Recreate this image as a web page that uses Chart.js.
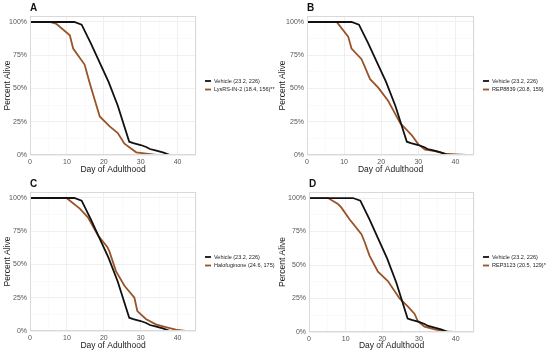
<!DOCTYPE html>
<html>
<head>
<meta charset="utf-8">
<script src="https://cdn.jsdelivr.net/npm/chart.js@4.4.0/dist/chart.umd.min.js"></script>
<style>
  body { margin: 0; background: #fff; }
  #wrap { position: relative; width: 550px; height: 353px; }
  .panel { position: absolute; width: 275px; height: 176px; }
</style>
</head>
<body>
<div id="wrap">
  <div class="panel" style="left:0;top:0"><canvas id="cA"></canvas></div>
  <div class="panel" style="left:275px;top:0"><canvas id="cB"></canvas></div>
  <div class="panel" style="left:0;top:176px"><canvas id="cC"></canvas></div>
  <div class="panel" style="left:275px;top:176px"><canvas id="cD"></canvas></div>
</div>
<script>
// shared control curve
const vehicleLabel = 'Vehicle (23.2, 226)';
const vehicleDays = [0, 12, 14, 16.5, 18.8, 21.3, 23.8, 26.9, 28, 30, 31.5, 32.5, 34, 36, 38];
const vehiclePct  = [100, 100, 98, 84, 70, 55, 37, 10, 9, 7.5, 6, 4.5, 3.5, 2, 0];

// treatments
const lysLabel = 'LysRS-IN-2 (18.4, 156)**';
const lysDays = [0, 5.4, 7.2, 10.8, 11.7, 14.8, 16.2, 18.9, 21.6, 23.8, 25.6, 28.8, 31.5, 34.2];
const lysPct  = [100, 100, 98.5, 90, 80, 68, 54, 29, 21.5, 16.5, 8.5, 2, 1, 0];

const rep8839Label = 'REP8839 (20.8, 159)';
const rep8839Days = [0, 8, 11.1, 12, 14.7, 17, 19.2, 21.9, 25.1, 28.2, 30, 31.8, 34.5, 37.2, 40, 43];
const rep8839Pct  = [100, 100, 89, 80, 72, 57, 50.6, 40.6, 24, 15, 8, 4, 3, 1, 0.5, 0];

const haloLabel = 'Halofuginone (24.6, 175)';
const haloDays = [0, 9.9, 13.5, 15.7, 18.4, 21, 21.5, 23.3, 25.6, 28.3, 29.1, 31.4, 34.1, 36.8, 39.5, 42.2];
const haloPct  = [100, 100, 92, 85.5, 72, 63, 60, 45, 34, 25, 15, 9, 5, 3, 1, 0];

const rep3123Label = 'REP3123 (20.5, 129)*';
const rep3123Days = [0, 5.2, 7.9, 8.8, 11.1, 14.3, 15.2, 16.5, 18.8, 21.5, 24.7, 27, 28.8, 29.7, 31.5, 34.3, 37, 39.5];
const rep3123Pct  = [100, 100, 95.5, 93, 84, 73, 67, 57, 45, 38, 25, 19, 13.5, 8, 4, 2, 0.5, 0];

const xTicks = [0, 10, 20, 30, 40];
const yTicks = [0, 25, 50, 75, 100];

const font = 'Liberation Sans, Arial, sans-serif';
const vehicleColor = '#111111';
const treatColor = '#9a5328';

function pts(xs, ys) {
    return xs.map((x, i) => ({ x: x, y: ys[i] }));
}

function makePanel(id, letter, tLabel, tDays, tPct, box) {
    const ctx = document.getElementById(id).getContext('2d');

    const overlay = {
        id: 'overlay',
        afterDraw(chart) {
            const c = chart.ctx;
            const a = chart.chartArea;
            c.save();
            // panel border
            c.strokeStyle = '#d9d9d9';
            c.lineWidth = 1;
            c.strokeRect(a.left + 0.5, a.top + 0.5, a.right - a.left - 1, a.bottom - a.top - 1);
            // panel letter
            c.fillStyle = '#111';
            c.font = 'bold 10px ' + font;
            c.textBaseline = 'middle';
            c.fillText(letter, a.left, 8);
            // legend
            const items = [[vehicleLabel, vehicleColor], [tLabel, treatColor]];
            items.forEach((it, i) => {
                const y = box.legY + i * 8.5;
                c.strokeStyle = it[1];
                c.lineWidth = 1.8;
                c.beginPath();
                c.moveTo(a.right + 9, y);
                c.lineTo(a.right + 15, y);
                c.stroke();
                c.fillStyle = '#222';
                c.font = '5.5px ' + font;
                c.fillText(it[0], a.right + 18, y);
            });
            c.restore();
        }
    };

    return new Chart(ctx, {
        type: 'line',
        data: {
            datasets: [{
                label: vehicleLabel,
                data: pts(vehicleDays, vehiclePct),
                borderColor: vehicleColor,
                borderWidth: 1.8,
                pointRadius: 0,
                tension: 0
            }, {
                label: tLabel,
                data: pts(tDays, tPct),
                borderColor: treatColor,
                borderWidth: 1.8,
                pointRadius: 0,
                tension: 0
            }]
        },
        options: {
            responsive: false,
            animation: false,
            layout: { padding: { top: box.top, right: 275 - box.right, left: 0, bottom: 0 } },
            plugins: { legend: { display: false }, tooltip: { enabled: false } },
            scales: {
                x: {
                    type: 'linear',
                    min: 0,
                    max: 45,
                    afterFit: s => { s.height = 176 - box.bottom; },
                    afterBuildTicks: s => { s.ticks = [0, 5, 10, 15, 20, 25, 30, 35, 40, 45].map(v => ({ value: v })); },
                    grid: {
                        drawTicks: false,
                        color: c => xTicks.includes(c.tick.value) ? '#ebebeb' : '#f5f5f5',
                        lineWidth: c => xTicks.includes(c.tick.value) ? 0.8 : 0.5
                    },
                    border: { display: false },
                    ticks: {
                        padding: 3,
                        autoSkip: false,
                        maxRotation: 0,
                        font: { size: 7, family: font },
                        color: '#555',
                        callback: v => xTicks.includes(v) ? String(v) : ''
                    },
                    title: {
                        display: true,
                        text: 'Day of Adulthood',
                        font: { size: 8.5, family: font },
                        color: '#222',
                        padding: { top: 0, bottom: 1 }
                    }
                },
                y: {
                    min: 0,
                    max: 104.5,
                    afterFit: s => { s.width = box.left; },
                    afterBuildTicks: s => { s.ticks = [0, 12.5, 25, 37.5, 50, 62.5, 75, 87.5, 100].map(v => ({ value: v })); },
                    grid: {
                        drawTicks: false,
                        color: c => yTicks.includes(c.tick.value) ? '#ebebeb' : '#f5f5f5',
                        lineWidth: c => yTicks.includes(c.tick.value) ? 0.8 : 0.5
                    },
                    border: { display: false },
                    ticks: {
                        padding: 3,
                        autoSkip: false,
                        font: { size: 7, family: font },
                        color: '#555',
                        callback: v => yTicks.includes(v) ? v + '%' : ''
                    },
                    title: {
                        display: true,
                        text: 'Percent Alive',
                        font: { size: 8.5, family: font },
                        color: '#222',
                        padding: { top: 3, bottom: 0 }
                    }
                }
            }
        },
        plugins: [overlay]
    });
}

function size(id) {
    const cv = document.getElementById(id);
    cv.width = 275; cv.height = 176;
    cv.style.width = '275px'; cv.style.height = '176px';
}
['cA', 'cB', 'cC', 'cD'].forEach(size);

makePanel('cA', 'A', lysLabel, lysDays, lysPct, { left: 30, right: 196, top: 16, bottom: 155, legY: 81 });
makePanel('cB', 'B', rep8839Label, rep8839Days, rep8839Pct, { left: 32, right: 199, top: 16, bottom: 155, legY: 81 });
makePanel('cC', 'C', haloLabel, haloDays, haloPct, { left: 30, right: 196, top: 16, bottom: 155, legY: 81 });
makePanel('cD', 'D', rep3123Label, rep3123Days, rep3123Pct, { left: 34, right: 199, top: 16, bottom: 156, legY: 81 });
</script>
</body>
</html>
